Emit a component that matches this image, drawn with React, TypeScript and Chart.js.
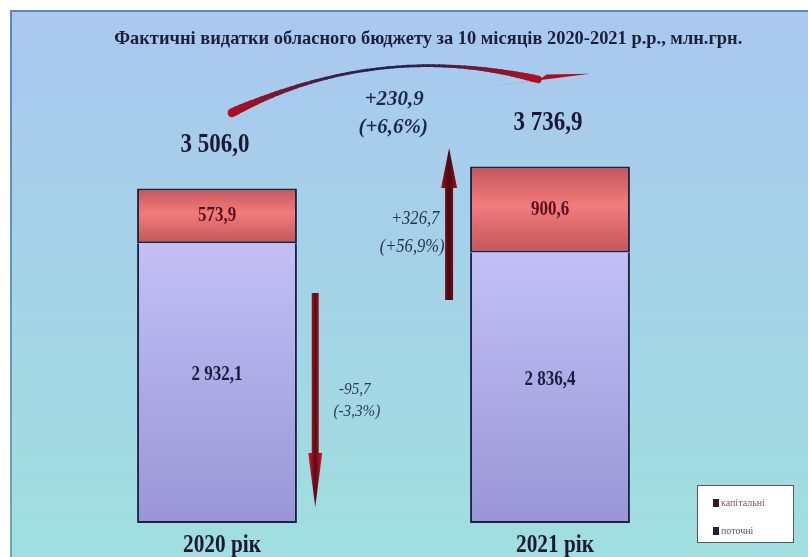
import React, { useEffect, useRef } from "react";
import { Chart, registerables } from "chart.js";

Chart.register(...registerables);

// ---------- data ----------
const categories = ["2020 рік", "2021 рік"];
const seriesNames = ["поточні", "капітальні"];
const currentSpending = [2932.1, 2836.4]; // поточні (lower part)
const capitalSpending = [573.9, 900.6]; // капітальні (upper part)
const currentLabels = ["2 932,1", "2 836,4"];
const capitalLabels = ["573,9", "900,6"];
const totalLabels = ["3 506,0", "3 736,9"];
const totalChangeLabels = ["+230,9", "(+6,6%)"];
const capitalChangeLabels = ["+326,7", "(+56,9%)"];
const currentChangeLabels = ["-95,7", "(-3,3%)"];
const titleText =
  "Фактичні видатки обласного бюджету за 10 місяців 2020-2021 р.р., млн.грн.";

const SERIF = '"Liberation Serif", "Times New Roman", serif';

function drawText(
  ctx: CanvasRenderingContext2D,
  s: string,
  x: number,
  y: number,
  font: string,
  color: string,
  sx = 1,
  align: CanvasTextAlign = "center",
  baseline: CanvasTextBaseline = "middle"
) {
  ctx.save();
  ctx.font = font;
  ctx.fillStyle = color;
  ctx.textAlign = align;
  ctx.textBaseline = baseline;
  ctx.translate(x, y);
  ctx.scale(sx, 1);
  ctx.fillText(s, 0, 0);
  ctx.restore();
}

function barFill(c: any, lower: boolean) {
  const chart = c.chart;
  const area = chart.chartArea;
  if (!area || c.type !== "data" || !chart.scales.y) return lower ? "#b4b0ec" : "#e87070";
  const y = chart.scales.y;
  const i = c.dataIndex;
  const base = lower ? 0 : currentSpending[i];
  const top = base + (lower ? currentSpending[i] : capitalSpending[i]);
  const y0 = y.getPixelForValue(top);
  const y1 = y.getPixelForValue(base);
  const g = chart.ctx.createLinearGradient(0, y0, 0, y1);
  if (lower) {
    g.addColorStop(0, "#c3bff6");
    g.addColorStop(1, "#9a96d6");
  } else {
    g.addColorStop(0, "#c2565c");
    g.addColorStop(0.45, "#f37b7b");
    g.addColorStop(1, "#c2565c");
  }
  return g;
}

function vArrow(
  ctx: CanvasRenderingContext2D,
  x: number,
  yTail: number,
  yTip: number,
  shaftW: number,
  headW: number,
  headLen: number,
  dark: boolean
) {
  const dir = Math.sign(yTip - yTail);
  const yBase = yTip - dir * headLen;
  const g = ctx.createLinearGradient(x - headW / 2, 0, x + headW / 2, 0);
  if (dark) {
    g.addColorStop(0, "#a01020");
    g.addColorStop(0.5, "#4a0612");
    g.addColorStop(1, "#a01020");
  } else {
    g.addColorStop(0, "#d01c26");
    g.addColorStop(0.5, "#5a0a16");
    g.addColorStop(1, "#d01c26");
  }
  ctx.save();
  ctx.fillStyle = g;
  ctx.beginPath();
  ctx.moveTo(x - shaftW / 2, yTail);
  ctx.lineTo(x + shaftW / 2, yTail);
  ctx.lineTo(x + shaftW / 2, yBase);
  ctx.lineTo(x + headW / 2, yBase);
  ctx.lineTo(x, yTip);
  ctx.lineTo(x - headW / 2, yBase);
  ctx.lineTo(x - shaftW / 2, yBase);
  ctx.closePath();
  ctx.fill();
  ctx.restore();
}

function mix(a: number[], b: number[], t: number) {
  return `rgb(${a.map((v, k) => Math.round(v + (b[k] - v) * t)).join(",")})`;
}

const decorPlugin = {
  id: "decor",
  beforeDraw(chart: any) {
    const { ctx, width, height } = chart;
    ctx.save();
    ctx.fillStyle = "#ffffff";
    ctx.fillRect(0, 0, width, height);
    const g = ctx.createLinearGradient(0, 10, 0, height);
    g.addColorStop(0, "#a9c8ef");
    g.addColorStop(0.5, "#a5d3e7");
    g.addColorStop(1, "#a0dfdf");
    ctx.fillStyle = g;
    ctx.fillRect(10, 10, width - 10, height - 10);
    const e = ctx.createLinearGradient(0, 10, 0, height);
    e.addColorStop(0, "#5f84bb");
    e.addColorStop(1, "#62aeb2");
    ctx.fillStyle = e;
    ctx.fillRect(10, 10, 2, height - 10);
    ctx.fillRect(10, 10, width - 10, 2);
    ctx.restore();
  },
  afterDraw(chart: any) {
    const { ctx, width, height, chartArea } = chart;
    const xS = chart.scales.x;
    const yS = chart.scales.y;
    const P = (idx: number, val: number) => [xS.getPixelForValue(idx), yS.getPixelForValue(val)];

    // title
    drawText(ctx, titleText, width * 0.53, 44, `bold 19px ${SERIF}`, "#1a1f3a", 0.97, "center", "alphabetic");

    // labels inside bars and totals
    const m0 = chart.getDatasetMeta(0);
    const m1 = chart.getDatasetMeta(1);
    categories.forEach((cat, i) => {
      const b0 = m0.data[i];
      const b1 = m1.data[i];
      drawText(ctx, currentLabels[i], b0.x, (b0.y + b0.base) / 2 - 8, `bold 20px ${SERIF}`, "#1b1d3c", 0.85);
      drawText(ctx, capitalLabels[i], b1.x, (b1.y + b1.base) / 2, `bold 20px ${SERIF}`, "#5a1020", 0.85);
      drawText(ctx, totalLabels[i], b1.x - 2, b1.y - 44, `bold 28px ${SERIF}`, "#1a1a36", 0.82);
      drawText(ctx, cat, xS.getPixelForValue(i) + 5, chartArea.bottom + 29, `bold 26px ${SERIF}`, "#1a1a36", 0.82, "center", "alphabetic");
    });

    // curved arrow between totals
    const [sx, sy] = P(0.045, 4300);
    const [cx, cy] = P(0.489, 5060);
    const [ex, ey] = P(0.964, 4650);
    const red = [176, 16, 32];
    const navy = [26, 36, 84];
    const N = 60;
    ctx.save();
    ctx.lineCap = "round";
    for (let k = 0; k < N; k++) {
      const t0 = k / N;
      const t1 = (k + 1) / N;
      const q = (t: number) => [
        (1 - t) * (1 - t) * sx + 2 * (1 - t) * t * cx + t * t * ex,
        (1 - t) * (1 - t) * sy + 2 * (1 - t) * t * cy + t * t * ey,
      ];
      const a = q(t0);
      const b = q(t1);
      const tm = (t0 + t1) / 2;
      const d = Math.abs(tm - 0.5) * 2; // 1 at ends, 0 in middle
      ctx.strokeStyle = mix(navy, red, Math.pow(d, 1.3));
      ctx.lineWidth = 2.6 + 6.5 * Math.pow(d, 3) * (tm < 0.5 ? 1 : 0.8);
      ctx.beginPath();
      ctx.moveTo(a[0], a[1]);
      ctx.lineTo(b[0], b[1]);
      ctx.stroke();
    }
    const [hx, hy] = P(1.12, 4710);
    const [ax, ay] = P(0.784, 4560);
    const [bx, by] = P(0.99, 4700);
    ctx.fillStyle = "#a8101e";
    ctx.beginPath();
    ctx.moveTo(hx, hy);
    ctx.lineTo(ax, ay);
    ctx.lineTo(ex, ey + 1);
    ctx.lineTo(bx, by);
    ctx.closePath();
    ctx.fill();
    ctx.restore();

    // vertical arrows
    const [dx, dTop] = P(0.295, 2410);
    const [, dTip] = P(0.295, 168);
    vArrow(ctx, dx, dTop, dTip, 7, 14, 54, false);
    const [ux, uTail] = P(0.697, 2338);
    const [, uTip] = P(0.697, 3931);
    vArrow(ctx, ux, uTail, uTip, 8, 16, 40, true);

    // change annotations
    let p = P(0.532, 4444);
    drawText(ctx, totalChangeLabels[0], p[0], p[1], `italic bold 22px ${SERIF}`, "#1c2a4a", 0.95);
    p = P(0.529, 4151);
    drawText(ctx, totalChangeLabels[1], p[0], p[1], `italic bold 22px ${SERIF}`, "#1c2a4a", 0.95);
    p = P(0.595, 3187);
    drawText(ctx, capitalChangeLabels[0], p[0], p[1], `italic 18px ${SERIF}`, "#25324e", 0.92);
    p = P(0.586, 2893);
    drawText(ctx, capitalChangeLabels[1], p[0], p[1], `italic 18px ${SERIF}`, "#25324e", 0.92);
    p = P(0.414, 1394);
    drawText(ctx, currentChangeLabels[0], p[0], p[1], `italic 16px ${SERIF}`, "#2d3a56", 0.95);
    p = P(0.42, 1164);
    drawText(ctx, currentChangeLabels[1], p[0], p[1], `italic 16px ${SERIF}`, "#2d3a56", 0.95);

    // legend
    const lx = width - 111;
    const ly = height - 72;
    ctx.save();
    ctx.fillStyle = "#ffffff";
    ctx.fillRect(lx, ly, 96, 57);
    ctx.strokeStyle = "#4d5b6a";
    ctx.lineWidth = 1;
    ctx.strokeRect(lx + 0.5, ly + 0.5, 96, 57);
    const items = [
      { name: seriesNames[1], sq: "#3b1824", tc: "#8a5868" },
      { name: seriesNames[0], sq: "#20203a", tc: "#5a5a78" },
    ];
    items.forEach((it, k) => {
      const yy = ly + 18 + k * 28;
      ctx.fillStyle = it.sq;
      ctx.fillRect(lx + 16, yy - 4, 6, 8);
      drawText(ctx, it.name, lx + 24, yy, `10px ${SERIF}`, it.tc, 1, "left");
    });
    ctx.restore();
  },
};

export default function App() {
  const ref = useRef<HTMLCanvasElement | null>(null);
  useEffect(() => {
    document.body.style.margin = "0";
    const canvas = ref.current!;
    const chart = new Chart(canvas, {
      type: "bar",
      data: {
        labels: categories,
        datasets: [
          {
            label: seriesNames[0],
            data: currentSpending,
            backgroundColor: (c: any) => barFill(c, true),
            borderColor: "#1c2244",
            borderWidth: { top: 0, left: 2, right: 2, bottom: 2 },
            borderSkipped: false,
            categoryPercentage: 0.48,
            barPercentage: 1,
          },
          {
            label: seriesNames[1],
            data: capitalSpending,
            backgroundColor: (c: any) => barFill(c, false),
            borderColor: "#22203a",
            borderWidth: { top: 2, left: 2, right: 2, bottom: 2 },
            borderSkipped: false,
            categoryPercentage: 0.48,
            barPercentage: 1,
          },
        ],
      },
      options: {
        responsive: false,
        animation: false,
        devicePixelRatio: 1,
        layout: { padding: { left: 50.5, right: 91.5, top: 46, bottom: 34 } },
        scales: {
          x: { display: false, stacked: true },
          y: { display: false, stacked: true, min: 0, max: 5000 },
        },
        plugins: {
          legend: { display: false },
          tooltip: { enabled: false },
          title: { display: false },
        },
      },
      plugins: [decorPlugin],
    } as any);
    return () => chart.destroy();
  }, []);
  return <canvas ref={ref} width={808} height={557} style={{ display: "block" }} />;
}
